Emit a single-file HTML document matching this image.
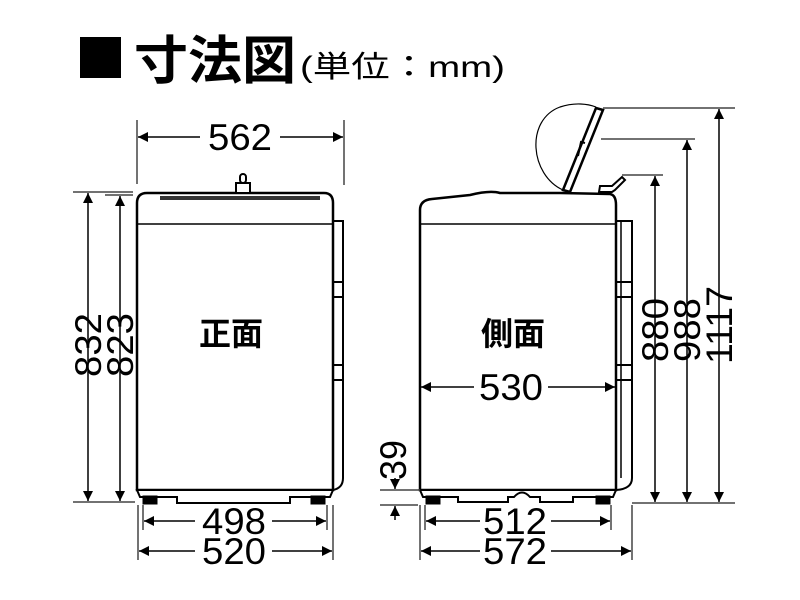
<!DOCTYPE html>
<html><head><meta charset="utf-8"><style>
html,body{margin:0;padding:0;background:#fff;}
svg{display:block;}
.n{font-family:"Liberation Sans",sans-serif;font-size:37px;fill:#000;}
.j{font-family:"Liberation Sans","Noto Sans CJK JP",sans-serif;fill:#000;}
</style></head><body>
<svg width="800" height="600" viewBox="0 0 800 600" xmlns="http://www.w3.org/2000/svg">
<defs>
<marker id="a" viewBox="0 0 10 10" refX="10" refY="5" markerWidth="10" markerHeight="10" markerUnits="userSpaceOnUse" orient="auto-start-reverse"><path d="M0,0 L10,5 L0,10 z" fill="#000"/></marker>
</defs>
<!-- title -->
<rect x="80" y="37" width="41" height="41" fill="#000"/>
<text x="134" y="79" class="j" font-size="52" font-weight="bold" textLength="162" lengthAdjust="spacingAndGlyphs">寸法図</text>
<text x="300" y="77" class="j" font-size="30" textLength="205" lengthAdjust="spacingAndGlyphs">(単位：mm)</text>

<g stroke="#000" fill="none">
<path d="M137,490 L137,203 Q137,193 147,193 L324,193 Q333,193 333,203 L333,490 Z" stroke-width="2.5" fill="#fff"/>
<line x1="160" y1="198" x2="320" y2="198" stroke-width="4" stroke="#333"/>
<line x1="137" y1="224" x2="333" y2="224" stroke-width="1.5"/>
<rect x="236" y="183" width="14" height="10" stroke-width="2" fill="#fff"/>
<rect x="240" y="174" width="6" height="9" rx="3" stroke-width="2" fill="#fff"/>
<path d="M333,221 L343,221 L343,478 Q343,488 333,490" stroke-width="2"/>
<line x1="333" y1="282" x2="343" y2="282" stroke-width="2"/><line x1="333" y1="297" x2="343" y2="297" stroke-width="2"/>
<line x1="333" y1="365" x2="343" y2="365" stroke-width="2"/><line x1="333" y1="380" x2="343" y2="380" stroke-width="2"/>
<path d="M137,490 L333,490 L330,497 L290,497 L290,503 L177,503 L177,497 L140,497 Z" stroke-width="2" fill="#fff"/>
<rect x="143" y="496" width="14" height="8" fill="#000"/><rect x="311" y="496" width="14" height="8" fill="#000"/>

<g stroke-width="1.5" stroke="#444">
<line x1="137" y1="120" x2="137" y2="184"/><line x1="344" y1="120" x2="344" y2="185"/>
<line x1="73" y1="192" x2="133" y2="192"/><line x1="105" y1="195" x2="133" y2="195"/>
<line x1="73" y1="502" x2="135" y2="502"/>
<line x1="138" y1="505" x2="138" y2="560"/><line x1="333" y1="505" x2="333" y2="560"/>
<line x1="143" y1="505" x2="143" y2="530"/><line x1="327" y1="505" x2="327" y2="530"/>
</g>
<g stroke-width="1.5" marker-end="url(#a)" marker-start="url(#a)">
<line x1="88" y1="193" x2="88" y2="501"/>
<line x1="120" y1="196" x2="120" y2="501"/>
</g>
<g stroke-width="1.5">
<line x1="138" y1="137" x2="200" y2="137" marker-start="url(#a)"/><line x1="280" y1="137" x2="343" y2="137" marker-end="url(#a)"/>
<line x1="144" y1="521" x2="195" y2="521" marker-start="url(#a)"/><line x1="272" y1="521" x2="326" y2="521" marker-end="url(#a)"/>
<line x1="139" y1="551" x2="195" y2="551" marker-start="url(#a)"/><line x1="272" y1="551" x2="332" y2="551" marker-end="url(#a)"/>
</g>

<path d="M420,490 L420,210 Q420,200 432,199 L470,195 Q490,190 500,193 L560,193 L610,194 Q616,195 616,205 L616,490 Z" stroke-width="2.5" fill="#fff"/>
<line x1="420" y1="224" x2="616" y2="224" stroke-width="1.5"/>
<path d="M616,221 L632,221 L632,478 Q632,489 616,490" stroke-width="2"/>
<line x1="616" y1="282" x2="632" y2="282" stroke-width="2"/><line x1="616" y1="297" x2="632" y2="297" stroke-width="2"/>
<line x1="616" y1="365" x2="632" y2="365" stroke-width="2"/><line x1="616" y1="380" x2="632" y2="380" stroke-width="2"/>
<line x1="621" y1="221" x2="621" y2="478" stroke-width="1.5"/>
<path d="M420,490 L616,490 L613,497 L573,497 L573,502 L540,502 L540,497 L530,497 Q522,488 514,497 L508,497 L508,502 L458,502 L458,497 L423,497 Z" stroke-width="2" fill="#fff"/>
<rect x="426" y="496" width="14" height="8" fill="#000"/><rect x="596" y="496" width="14" height="8" fill="#000"/>
<path d="M563,190 L596,108 L603,110 L570,192 Z" stroke-width="2.5" fill="#fff"/>
<path d="M578,156 L581,142 L585,143" stroke-width="2"/>
<path d="M563,190 C530,175 525,120 560,107 C575,102 588,104 596,107" stroke-width="1.2"/>
<path d="M599,192 L600,186 L612,186 L622,177 L625,180 L615,190 L612,192 Z" stroke-width="2" fill="#fff"/>
<g stroke-width="1.5" stroke="#444">
<line x1="603" y1="108" x2="735" y2="108"/>
<line x1="601" y1="139" x2="695" y2="139"/>
<line x1="622" y1="175" x2="663" y2="175"/>
<line x1="632" y1="503" x2="735" y2="503"/>
<line x1="380" y1="490" x2="420" y2="490"/><line x1="380" y1="505" x2="418" y2="505"/>
<line x1="420" y1="505" x2="420" y2="560"/><line x1="632" y1="505" x2="632" y2="560"/>
<line x1="425" y1="505" x2="425" y2="530"/><line x1="611" y1="505" x2="611" y2="530"/>
</g>
<g stroke-width="1.5" marker-end="url(#a)" marker-start="url(#a)">
<line x1="655" y1="176" x2="655" y2="502"/>
<line x1="687" y1="140" x2="687" y2="502"/>
<line x1="719" y1="109" x2="719" y2="502"/>
</g>
<g stroke-width="1.5">
<line x1="421" y1="387" x2="474" y2="387" marker-start="url(#a)"/><line x1="548" y1="387" x2="615" y2="387" marker-end="url(#a)"/>
<line x1="426" y1="521" x2="480" y2="521" marker-start="url(#a)"/><line x1="551" y1="521" x2="610" y2="521" marker-end="url(#a)"/>
<line x1="421" y1="551" x2="480" y2="551" marker-start="url(#a)"/><line x1="551" y1="551" x2="631" y2="551" marker-end="url(#a)"/>
<line x1="395" y1="478" x2="395" y2="489" marker-end="url(#a)"/>
<line x1="395" y1="520" x2="395" y2="506" marker-end="url(#a)"/>
</g>
</g>

<text x="208" y="150" class="n" textLength="64" lengthAdjust="spacingAndGlyphs">562</text>
<text x="202" y="534" class="n" textLength="64" lengthAdjust="spacingAndGlyphs">498</text>
<text x="202" y="564" class="n" textLength="64" lengthAdjust="spacingAndGlyphs">520</text>
<text x="483" y="534" class="n" textLength="64" lengthAdjust="spacingAndGlyphs">512</text>
<text x="483" y="564" class="n" textLength="64" lengthAdjust="spacingAndGlyphs">572</text>
<text x="479" y="400" class="n" textLength="64" lengthAdjust="spacingAndGlyphs">530</text>
<text class="n" textLength="64" lengthAdjust="spacingAndGlyphs" transform="translate(101,377) rotate(-90)">832</text>
<text class="n" textLength="64" lengthAdjust="spacingAndGlyphs" transform="translate(133,377) rotate(-90)">823</text>
<text class="n" textLength="64" lengthAdjust="spacingAndGlyphs" transform="translate(668,362) rotate(-90)">880</text>
<text class="n" textLength="64" lengthAdjust="spacingAndGlyphs" transform="translate(700,362) rotate(-90)">988</text>
<text class="n" textLength="78" lengthAdjust="spacingAndGlyphs" transform="translate(732,364) rotate(-90)">1117</text>
<text class="n" textLength="40" lengthAdjust="spacingAndGlyphs" transform="translate(406,480) rotate(-90)">39</text>
<text x="231" y="345" class="j" font-size="32" font-weight="bold" text-anchor="middle">正面</text>
<text x="513" y="345" class="j" font-size="32" font-weight="bold" text-anchor="middle">側面</text>
</svg>
</body></html>
